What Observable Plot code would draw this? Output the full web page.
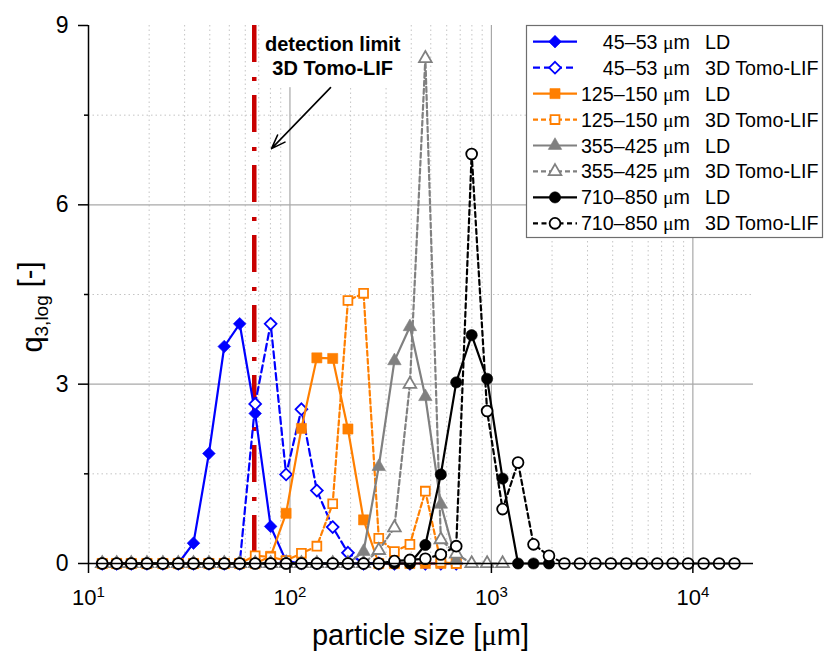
<!DOCTYPE html>
<html>
<head>
<meta charset="utf-8">
<script src="https://cdn.jsdelivr.net/npm/d3@7"></script>
<script src="https://cdn.jsdelivr.net/npm/@observablehq/plot@0.6"></script>
<style>
  html, body { margin: 0; padding: 0; background: #fff; }
  #chart { width: 824px; height: 659px; }
</style>
</head>
<body>
<div id="chart"></div>
<script>
const FONT = '"Liberation Sans", Arial, Helvetica, sans-serif';
const SERIF = '"Liberation Serif", "Times New Roman", serif';

// Particle size classes [µm] shared by laser diffraction and 3D Tomo-LIF
const sizes = [11.7, 13.8, 16.3, 19.5, 23.4, 27.9, 33.2, 39.6, 47.2, 56.3,
  67.2, 80.2, 95.7, 114, 136, 163, 194, 232, 276, 330,
  394, 470, 561, 669, 798, 952, 1136, 1356, 1618, 1931,
  2304, 2750, 3281, 3916, 4672, 5575, 6653, 7939, 9474, 11305,
  13490, 16098];

// q3,log per size class (index into sizes)
const q45LD    = [0,0,0,0,0,0,0.34,1.84,3.63,4.01,2.51,0.62,0.04,0,0,0,0,0,0,0,0,0,0,0];
const q45Tomo  = [0,0,0,0,0,0,0,0,0,0,2.67,4.01,1.49,2.58,1.22,0.61,0.18,0,0,0,0,0,0,0];
const q125LD   = [0,0,0,0,0,0,0,0,0,0,0,0.12,0.84,2.26,3.44,3.43,2.25,0.73,0,0,0,0,0,0];
const q125Tomo = [0,0,0,0,0,0,0,0,0,0,0.13,0.11,0.05,0.17,0.29,1.00,4.40,4.52,0.42,0.20,0.32,1.21,0.02,0];
const q355LD   = [0,0,0,0,0,0,0,0,0,0,0,0,0,0,0,0,0,0.20,1.62,3.39,3.96,2.79,0.99,0.05];
const q355Tomo = [0,0,0,0,0,0,0,0,0,0,0,0,0,0,0,0,0,0,0.22,0.60,3.00,8.45,0.40,0.16,0,0,0];
const q710LD   = [0,0,0,0,0,0,0,0,0,0,0,0,0,0,0,0,0,0,0,0,0,0.31,1.49,3.03,3.82,3.09,1.42,0,0,0];
const q710Tomo = [0,0,0,0,0,0,0,0,0,0,0,0,0,0,0,0,0,0,0,0.04,0.06,0.08,0.15,0.29,6.85,2.55,0.91,1.69,0.32,0.13,
  0,0,0,0,0,0,0,0,0,0,0,0];

const classLabels = ["45–53", "125–150", "355–425", "710–850"];
const classColors = ["#0000ff", "#ff7f00", "#808080", "#000000"];
const methods = ["LD", "3D Tomo-LIF"];

// detection limit of 3D Tomo-LIF [µm]
const detectionLimit = 66.5;

// grid lines
const majorX = [100, 1000, 10000];
const minorX = [20, 30, 40, 50, 60, 70, 80, 90, 200, 300, 400, 500, 600, 700, 800, 900,
  2000, 3000, 4000, 5000, 6000, 7000, 8000, 9000];
const majorY = [3, 6];
const minorY = [1.5, 4.5, 7.5];
const xTicks = [10, 100, 1000, 10000];
const yTicks = [0, 3, 6, 9];

const series = [
  {cls: 0, method: 0, values: q45LD,    symbol: "diamond2", r: 5.7, filled: true,  dash: null},
  {cls: 0, method: 1, values: q45Tomo,  symbol: "diamond2", r: 5.3, filled: false, dash: "7,4"},
  {cls: 1, method: 0, values: q125LD,   symbol: "square",   r: 5.7, filled: true,  dash: null},
  {cls: 1, method: 1, values: q125Tomo, symbol: "square",   r: 5.0, filled: false, dash: "5,3"},
  {cls: 2, method: 0, values: q355LD,   symbol: "triangle", r: 5.0, filled: true,  dash: null},
  {cls: 2, method: 1, values: q355Tomo, symbol: "triangle", r: 4.7, filled: false, dash: "5,3"},
  {cls: 3, method: 0, values: q710LD,   symbol: "circle",   r: 5.6, filled: true,  dash: null},
  {cls: 3, method: 1, values: q710Tomo, symbol: "circle",   r: 5.4, filled: false, dash: "5,3.5"}
];

const seriesMarks = series.flatMap(s => {
  const rows = s.values.map((q, i) => ({size: sizes[i], q}));
  const color = classColors[s.cls];
  return [
    Plot.line(rows, {x: "size", y: "q", stroke: color, strokeWidth: 2.2, strokeDasharray: s.dash}),
    Plot.dot(rows, {
      x: "size", y: "q", symbol: s.symbol, r: s.r,
      fill: s.filled ? color : "white",
      stroke: color, strokeWidth: s.filled ? 0.6 : 1.8
    })
  ];
});

const noteBox = [{x1: 73, x2: 375, y1: 7.96, y2: 9}];
const note = [{x: 163, y: 8.5, text: "detection limit\n3D Tomo-LIF"}];
const noteArrow = [{x1: 159, y1: 7.96, x2: 81, y2: 6.94}];

const svg = Plot.plot({
  width: 824,
  height: 659,
  marginLeft: 88,
  marginRight: 71,
  marginTop: 25,
  marginBottom: 96,
  style: {fontFamily: FONT, fontSize: "22px", background: "white", color: "black"},
  x: {type: "log", domain: [10, 20000]},
  y: {domain: [0, 9]},
  marks: [
    Plot.ruleX(minorX, {stroke: "#c4c4c4", strokeWidth: 1, strokeDasharray: "1.5,3"}),
    Plot.ruleY(minorY, {stroke: "#c4c4c4", strokeWidth: 1, strokeDasharray: "1.5,3"}),
    Plot.ruleX(majorX, {stroke: "#a8a8a8", strokeWidth: 1.2}),
    Plot.ruleY(majorY, {stroke: "#a8a8a8", strokeWidth: 1.2}),
    Plot.rect(noteBox, {x1: "x1", x2: "x2", y1: "y1", y2: "y2", fill: "white"}),
    Plot.ruleX([detectionLimit], {stroke: "#c80000", strokeWidth: 4.5, strokeDasharray: "37,15,4,14"}),
    ...seriesMarks,
    Plot.ruleX([10], {stroke: "black", strokeWidth: 1.5}),
    Plot.ruleY([0], {stroke: "black", strokeWidth: 1.5}),
    Plot.axisY({ticks: yTicks, tickSize: 10, tickPadding: 10, fontSize: 23, label: null, strokeWidth: 1.5}),
    Plot.axisY({ticks: minorY, tickSize: 4, tickFormat: () => "", label: null, strokeWidth: 1.5}),
    Plot.axisX({ticks: xTicks, tickSize: 10, tickPadding: 16, fontSize: 22, label: null, strokeWidth: 1.5,
      tickFormat: d => String(Math.round(Math.log10(d)))}),
    Plot.text(note, {x: "x", y: "y", text: "text", fontWeight: "bold", fontSize: 20, lineHeight: 1.2, fill: "black"}),
    Plot.arrow(noteArrow, {x1: "x1", y1: "y1", x2: "x2", y2: "y2", stroke: "black", strokeWidth: 1.6, headLength: 14, headAngle: 40})
  ]
});

document.getElementById("chart").appendChild(svg);
const root = d3.select(svg);

// decade tick labels as 10 with a raised exponent
root.selectAll('g[aria-label="x-axis tick label"] text').each(function() {
  const t = d3.select(this);
  const exp = t.text();
  t.text(null);
  t.append("tspan").text("10");
  t.append("tspan").attr("dy", "-0.55em").attr("font-size", 15).text(exp);
});

// axis titles
const yTitle = root.append("text")
  .attr("transform", "translate(42,307) rotate(-90)")
  .attr("text-anchor", "middle")
  .attr("font-family", FONT).attr("font-size", 29).attr("fill", "black");
yTitle.append("tspan").text("q");
yTitle.append("tspan").attr("dy", "0.3em").attr("font-size", 19).text("3,log");
yTitle.append("tspan").attr("dy", "-0.3em").text(" [-]");

const xTitle = root.append("text")
  .attr("x", 420.5).attr("y", 645)
  .attr("text-anchor", "middle")
  .attr("font-family", FONT).attr("font-size", 29).attr("fill", "black");
xTitle.append("tspan").text("particle size [");
xTitle.append("tspan").attr("font-family", SERIF).text("μ");
xTitle.append("tspan").text("m]");

// legend
const lg = root.append("g").attr("font-family", FONT).attr("fill", "black");
lg.append("rect")
  .attr("x", 526.5).attr("y", 25.5).attr("width", 296).attr("height", 212)
  .attr("fill", "white").attr("stroke", "#6e6e6e").attr("stroke-width", 1.2);
const symbolTypes = {diamond2: d3.symbolDiamond2, square: d3.symbolSquare, triangle: d3.symbolTriangle, circle: d3.symbolCircle};
series.forEach((s, i) => {
  const cy = 41.7 + i * 25.95;
  const color = classColors[s.cls];
  lg.append("line")
    .attr("x1", 533).attr("x2", 577).attr("y1", cy).attr("y2", cy)
    .attr("stroke", color).attr("stroke-width", 2.2)
    .attr("stroke-dasharray", s.dash);
  lg.append("path")
    .attr("transform", `translate(555,${cy})`)
    .attr("d", d3.symbol(symbolTypes[s.symbol], Math.PI * s.r * s.r)())
    .attr("fill", s.filled ? color : "white")
    .attr("stroke", color).attr("stroke-width", s.filled ? 0.6 : 1.8);
  const label = lg.append("text")
    .attr("x", 690).attr("y", cy + 7)
    .attr("text-anchor", "end").attr("font-size", 19.7);
  label.append("tspan").text(classLabels[s.cls] + " ");
  label.append("tspan").attr("font-family", SERIF).text("μ");
  label.append("tspan").text("m");
  lg.append("text")
    .attr("x", 705).attr("y", cy + 7)
    .attr("text-anchor", "start").attr("font-size", 19.7)
    .text(methods[s.method]);
});
</script>
</body>
</html>
